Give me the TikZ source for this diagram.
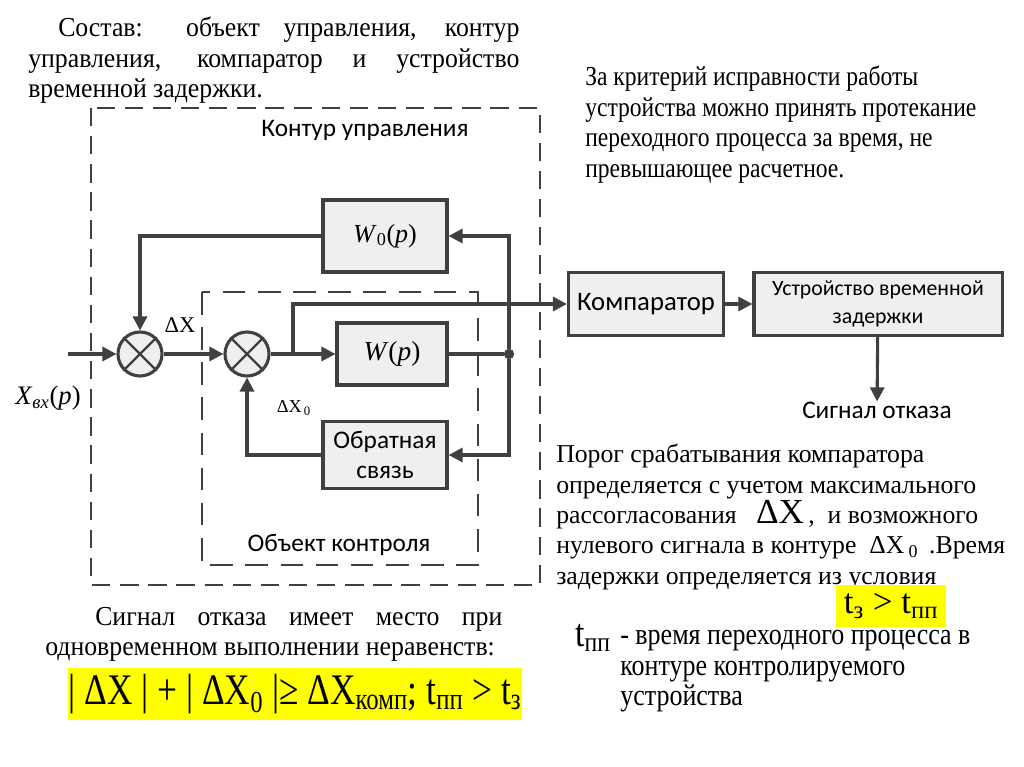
\documentclass[tikz,border=0pt]{standalone}
\usepackage{fontspec}
\setmainfont{Liberation Serif}
\newfontfamily\calibri{Carlito}
\newfontfamily\narrowserif[FakeStretch=0.86]{Liberation Serif}
\newfontfamily\tallserif[FakeStretch=0.94]{Liberation Serif}
\newfontfamily\formulaserif[FakeStretch=0.81]{Liberation Serif}
\usetikzlibrary{arrows.meta, positioning}
\definecolor{linegray}{HTML}{404040}
\definecolor{boxgray}{HTML}{EFEFEF}
\definecolor{marker}{HTML}{FFFF00}

\tikzset{
  blk/.style={draw=linegray, fill=boxgray, line width=2.2pt, align=center, inner sep=0pt,
    font=\calibri\fontsize{18pt}{21pt}\selectfont},
  sumnode/.style={circle, draw=linegray, fill=boxgray, line width=2.2pt, minimum size=1.1cm, inner sep=0pt},
  conn/.style={draw=linegray, line width=2.2pt, -{Triangle[length=10pt,width=10pt]}},
  wire/.style={draw=linegray, line width=2.2pt},
  frame/.style={draw=linegray, line width=1.8pt, dash pattern=on 13pt off 7pt},
  sanslabel/.style={inner sep=0pt, font=\calibri\fontsize{18pt}{21pt}\selectfont},
  note/.style={anchor=north west, inner sep=0pt, align=left,
    font=\fontsize{18.3pt}{21.6pt}\selectfont},
}

\begin{document}
\begin{tikzpicture}[x=0.025cm, y=-0.025cm]
  \useasboundingbox (0,0) rectangle (1024,767);

  % frames: outer = control loop, inner = controlled object
  \draw[frame] (91,108) rectangle (540,585);
  \draw[frame, dash pattern=on 16pt off 9pt] (202,292) rectangle (478,565);
  \node[sanslabel] (ctrlttl) at (365,130) {Контур управления};
  \node[sanslabel] (objttl) at (339,545) {Объект контроля};

  % blocks
  \node[blk, minimum width=3.1cm, minimum height=1.8cm] (w0) at (385,236)
    {\rmfamily\fontsize{18.5pt}{20pt}\selectfont \textit{W}\textsubscript{0}(\textit{p})};
  \node[blk, minimum width=2.75cm, minimum height=1.55cm] (w) at (392,354)
    {\rmfamily\fontsize{19.5pt}{22pt}\selectfont \textit{W}(\textit{p})};
  \node[blk, minimum width=3.1cm, minimum height=1.675cm] (fb) at (385,455) {Обратная\\связь};
  \node[sumnode] (s1) at (140,354) {};
  \node[sumnode] (s2) at (247,354) {};
  \foreach \s in {s1,s2}
    \draw[wire, line width=1.6pt] (\s.north west) -- (\s.south east) (\s.north east) -- (\s.south west);
  \node[blk, minimum width=3.875cm, minimum height=1.575cm,
    font=\calibri\fontsize{19pt}{21pt}\selectfont] (cmp) at (646,304) {Компаратор};
  \node[blk, minimum width=6.2cm, minimum height=1.575cm,
    font=\calibri\fontsize{15.5pt}{20pt}\selectfont] (dly) at (878,304) {Устройство временной\\задержки};
  \node[sanslabel] (fail) at (877,410) {Сигнал отказа};

  % signal labels
  \node[inner sep=0pt, font=\fontsize{16pt}{18pt}\selectfont] (dx) at (180,325) {ΔX};
  \node[inner sep=0pt, font=\fontsize{13pt}{15pt}\selectfont] (dx0) at (294,408) {ΔX\textsubscript{\,0}};
  \node[inner sep=0pt, font=\fontsize{19pt}{22pt}\selectfont] (xin) at (48,398)
    {\textit{X}\textsubscript{\textit{вх}}(\textit{p})};

  % connectors
  \coordinate (in) at (68,354);
  \coordinate (br) at (293,354);
  \node[circle, fill=linegray, inner sep=0pt, minimum size=0.26cm] (dot) at (509,354) {};
  \draw[conn] (in) -- (s1);
  \draw[conn] (s1) -- (s2);
  \draw[conn] (s2) -- (w);
  \draw[conn] (br) |- (cmp.west);
  \draw[wire] (w) -- (dot);
  \draw[conn] (dot) |- (w0.east);
  \draw[conn] (dot) |- (fb.east);
  \draw[conn] (w0.west) -| (s1.north);
  \draw[conn] (fb.west) -| (s2.south);
  \draw[conn] (cmp) -- (dly);
  \draw[conn] (dly) -- (fail);

  % texts
  \node[note, text width=12.275cm, align=justify, font=\tallserif\fontsize{19.5pt}{21.6pt}\selectfont]
    (comp) at (28,17)
    {\hspace*{0.75cm}Состав: объект управления, контур\linebreak
     управления, компаратор и устройство\linebreak временной задержки.};
  \node[note, font=\narrowserif\fontsize{19.5pt}{21.6pt}\selectfont] (crit) at (585,66)
    {За критерий исправности работы\\устройства можно принять протекание\\
     переходного процесса за время, не\\превышающее расчетное.};
  \node[note] (thr) at (556,444)
    {Порог срабатывания компаратора\\определяется с учетом максимального\\
     рассогласования \ \ {\fontsize{25pt}{24pt}\selectfont ΔX}\,, \ и возможного\\
     нулевого сигнала в контуре \ ΔX\,\textsubscript{0} \,.Время\\
     задержки определяется из условия};
  \node[fill=marker, inner sep=0pt, minimum width=2.75cm, minimum height=1.05cm,
    font=\fontsize{25pt}{28pt}\selectfont] (tcond) at (891,606)
    {t\textsubscript{з} > t\textsubscript{пп}};
  \node[inner sep=0pt, font=\narrowserif\fontsize{28pt}{28pt}\selectfont] (tpp) at (593,638)
    {t\textsubscript{пп}};
  \node[note, font=\narrowserif\fontsize{21.5pt}{21.8pt}\selectfont] (tppdef) at (620,630)
    {- время переходного процесса в\\контуре контролируемого\\устройства};
  \node[note, text width=11.425cm, align=justify, font=\tallserif\fontsize{19.5pt}{21.6pt}\selectfont]
    (fault) at (45,607)
    {\hspace*{1.25cm}Сигнал отказа имеет место при\linebreak
     одновременном выполнении неравенств:};
  \node[fill=marker, inner sep=0pt, minimum width=11.35cm, minimum height=1.3cm,
    font=\formulaserif\fontsize{31pt}{32pt}\selectfont] (ineq) at (295,694)
    {| ΔX | + | ΔX\textsubscript{0} |≥ ΔX\textsubscript{комп}; t\textsubscript{пп} > t\textsubscript{з}};
\end{tikzpicture}
\end{document}
